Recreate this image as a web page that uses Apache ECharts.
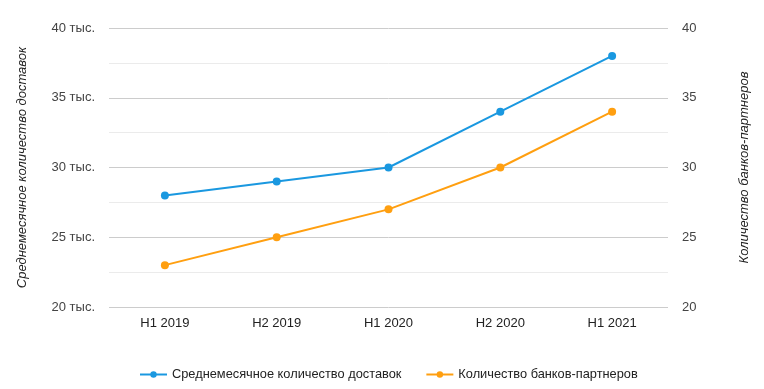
<!DOCTYPE html>
<html><head><meta charset="utf-8">
<script src="https://cdn.jsdelivr.net/npm/echarts@6/dist/echarts.min.js"></script>
<style>html,body{margin:0;padding:0;background:#fff}#c{width:764px;height:389px}</style>
</head><body><div id="c"></div>
<script>
const categories = ['H1 2019','H2 2019','H1 2020','H2 2020','H1 2021'];
const deliveries = [28, 29, 30, 34, 38];
const banks = [23, 25, 27, 30, 34];
const seriesNames = ['Среднемесячное количество доставок','Количество банков-партнеров'];
const leftAxisName = 'Среднемесячное количество доставок';
const rightAxisName = 'Количество банков-партнеров';
const FONT = 'Arial, "Liberation Sans", sans-serif';
const chart = echarts.init(document.getElementById('c'));
const yBase = {
  type:'value', min:20, max:40, interval:5,
  axisLine:{show:false}, axisTick:{show:false},
  splitLine:{show:true, lineStyle:{color:'#cccccc', width:1}},
  minorTick:{show:false, splitNumber:2},
  minorSplitLine:{show:true, lineStyle:{color:'#ebebeb', width:1}},
  nameLocation:'middle', nameRotate:90,
  nameTextStyle:{fontFamily:FONT, fontSize:13, fontStyle:'italic', color:'#222'},
};
chart.setOption({
  animation:false,
  color:['#1a98e0','#ff9f10'],
  textStyle:{fontFamily:FONT},
  grid:{left:109, right:96, top:28, bottom:82},
  legend:{
    bottom:3, left:134, itemWidth:27, itemHeight:8, itemGap:24,
    textStyle:{fontFamily:FONT, fontSize:12.8, color:'#222'},
    data:seriesNames
  },
  xAxis:{
    type:'category', data:categories, boundaryGap:true,
    axisLine:{show:false}, axisTick:{show:false},
    axisLabel:{fontFamily:FONT, fontSize:13, color:'#222', margin:10}
  },
  yAxis:[
    Object.assign({}, yBase, {position:'left', name:leftAxisName, nameGap:80,
      axisLabel:{fontFamily:FONT, fontSize:13, color:'#444', margin:14, formatter:v=>v+' тыс.'}}),
    Object.assign({}, yBase, {position:'right', name:rightAxisName, nameGap:70,
      splitLine:{show:false}, minorSplitLine:{show:false},
      axisLabel:{fontFamily:FONT, fontSize:13, color:'#444', margin:14}})
  ],
  series:[
    {name:seriesNames[0], type:'line', yAxisIndex:0, data:deliveries, symbol:'circle', symbolSize:8, lineStyle:{width:2}},
    {name:seriesNames[1], type:'line', yAxisIndex:1, data:banks, symbol:'circle', symbolSize:8, lineStyle:{width:2}}
  ]
});
</script></body></html>
